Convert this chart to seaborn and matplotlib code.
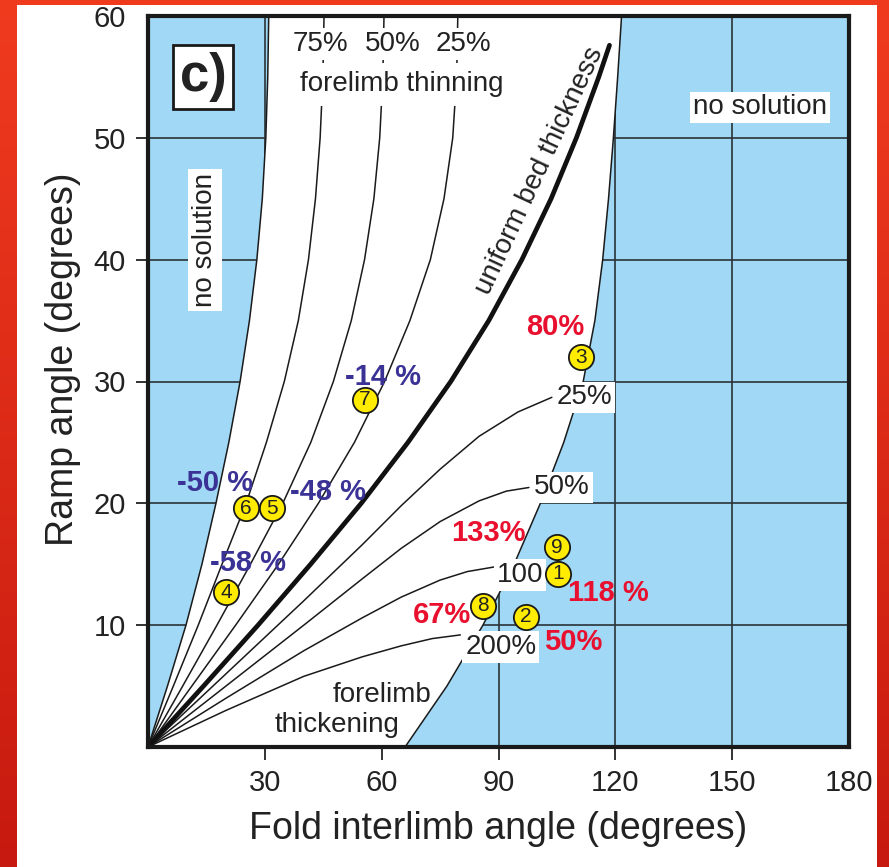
import numpy as np
import matplotlib
matplotlib.use("Agg")
import matplotlib.pyplot as plt
import seaborn as sns
from matplotlib.patches import Rectangle

# --- Dane (kąt przegubu fałdu vs kąt rampy) ---
# granice obszaru rozwiązań
left_bnd_x = [0, 5, 9.75, 13.85, 17.45, 20.75, 23.65, 26.05, 27.95, 29.35, 30.25, 30.75, 31.0]
left_bnd_y = [0, 5, 10, 15, 20, 25, 30, 35, 40, 45, 50, 55, 60]
right_bnd_x = [66, 76.75, 86.0, 94.0, 100.75, 106.75, 111.75, 114.75, 116.75, 118.25, 119.5, 120.6, 121.6]
right_bnd_y = [0, 5, 10, 15, 20, 25, 30, 35, 40, 45, 50, 55, 60]

# pocienianie skrzydła (75%, 50%, 25%)
thin_y = [0, 5, 10, 15, 20, 25, 30, 35, 40, 45, 50, 55, 60]
thin75_x = [0, 6.5, 12.9, 19.0, 25.2, 30.4, 35.0, 38.6, 41.2, 43.0, 44.2, 44.9, 45.2]
thin50_x = [0, 8.9, 17.7, 26.3, 34.6, 41.8, 47.6, 52.2, 55.6, 58.0, 59.5, 60.3, 60.6]
thin25_x = [0, 11.25, 22.5, 33.5, 43.75, 53.0, 60.75, 67.25, 72.5, 76.0, 78.25, 79.25, 79.55]

# stała miąższość warstwy
uniform_x = [0, 14.25, 28.25, 41.75, 54.75, 66.75, 77.75, 87.5, 96.0, 103.5, 110.0, 115.75, 118.5]
uniform_y = [0, 5, 10, 15, 20, 25, 30, 35, 40, 45, 50, 55, 57.6]

# pogrubianie skrzydła (25%, 50%, 100%, 200%)
thick25_x = [0, 20, 40, 55, 65, 75, 85, 95, 103.7]
thick25_y = [0, 6.0, 12.0, 16.6, 19.8, 22.8, 25.5, 27.5, 28.7]
thick50_x = [0, 20, 40, 55, 65, 75, 85, 92, 97.8]
thick50_y = [0, 5.0, 10.0, 13.8, 16.3, 18.5, 20.2, 21.0, 21.3]
thick100_x = [0, 20, 40, 55, 65, 75, 82, 89.3]
thick100_y = [0, 4.0, 7.9, 10.6, 12.3, 13.7, 14.4, 14.8]
thick200_x = [0, 20, 40, 55, 65, 73, 80.2]
thick200_y = [0, 3.0, 5.8, 7.4, 8.3, 8.9, 9.2]

# punkty pomiarowe
pt_ids = ["1", "2", "3", "4", "5", "6", "7", "8", "9"]
pt_x = [105.3, 97.0, 111.2, 20.0, 31.8, 25.2, 55.7, 86.0, 105.0]
pt_y = [14.2, 10.7, 32.0, 12.7, 19.6, 19.6, 28.5, 11.6, 16.4]

# etykiety zmian miąższości
neg_labels = ["-14 %", "-50 %", "-48 %", "-58 %"]
neg_x = [60.3, 17.2, 46.2, 25.7]
neg_y = [30.4, 21.7, 20.9, 15.1]
pos_labels = ["80%", "133%", "118 %", "67%", "50%"]
pos_x = [104.5, 87.3, 118.1, 75.5, 109.1]
pos_y = [34.5, 17.6, 12.6, 10.8, 8.6]
curve_labels = ["25%", "50%", "100", "200%"]
curve_lab_x = [112.0, 106.3, 95.6, 90.6]
curve_lab_y = [28.7, 21.3, 14.1, 8.2]
top_labels = ["75%", "50%", "25%"]
top_lab_x = [44.4, 62.9, 80.9]

x_ticks = [30, 60, 90, 120, 150, 180]
y_ticks = [10, 20, 30, 40, 50, 60]

BLUE_BG = "#a0d8f5"
TXT = "#222222"
NEG_COL = "#3b3296"
POS_COL = "#e8102e"

sns.set_theme(style="ticks")
plt.rcParams["font.family"] = ["Liberation Sans", "DejaVu Sans"]

fig = plt.figure(figsize=(8.89, 8.67), dpi=100)

# tło slajdu (czerwony gradient + biały panel)
bg = fig.add_axes([0, 0, 1, 1], zorder=-5)
grad = np.linspace(0, 1, 256).reshape(-1, 1)
top_c = np.array([0.94, 0.23, 0.12])
bot_c = np.array([0.78, 0.10, 0.06])
img = top_c + (bot_c - top_c) * grad[..., None]
img = np.repeat(img, 2, axis=1)
bg.imshow(img, aspect="auto", extent=[0, 1, 0, 1])
bg.add_patch(Rectangle((17 / 889, 0), 860 / 889, 862 / 867, facecolor="white",
                       edgecolor="none"))
bg.set_xlim(0, 1)
bg.set_ylim(0, 1)
bg.axis("off")

ax = fig.add_axes([148 / 889, 1 - 747 / 867, 701 / 889, 731 / 867])
ax.set_facecolor(BLUE_BG)
ax.set_xlim(0, 180)
ax.set_ylim(0, 60)
ax.set_axisbelow(True)
ax.grid(True, color="#2b3338", lw=1.2)

# biały obszar rozwiązań
poly_x = left_bnd_x + right_bnd_x[::-1]
poly_y = left_bnd_y + right_bnd_y[::-1]
ax.fill(poly_x, poly_y, color="white", zorder=1, lw=0)

thin_curves = [(left_bnd_x, left_bnd_y), (right_bnd_x, right_bnd_y),
               (thin75_x, thin_y), (thin50_x, thin_y), (thin25_x, thin_y),
               (thick25_x, thick25_y), (thick50_x, thick50_y),
               (thick100_x, thick100_y), (thick200_x, thick200_y)]
for cx, cy in thin_curves:
    sns.lineplot(x=cx, y=cy, sort=False, estimator=None, color="#1a1a1a",
                 lw=1.1, ax=ax, zorder=3)
sns.lineplot(x=uniform_x, y=uniform_y, sort=False, estimator=None,
             color="#111111", lw=3.4, ax=ax, zorder=3)

# opisy
box = dict(facecolor="white", edgecolor="none", pad=2)
for lab, lx in zip(top_labels, top_lab_x):
    ax.text(lx, 57.7, lab, ha="center", va="center", fontsize=20, color=TXT,
            bbox=box, zorder=5)
ax.text(65.2, 54.4, "forelimb thinning", ha="center", va="center", fontsize=20,
        color=TXT, bbox=dict(facecolor="white", edgecolor="none", pad=6), zorder=5)
ax.text(100.5, 47.3, "uniform bed thickness", ha="center", va="center",
        rotation=65, rotation_mode="anchor", fontsize=20, color=TXT, zorder=5)
ax.text(14.6, 41.6, "no solution", ha="center", va="center", rotation=90,
        fontsize=20, color=TXT, bbox=dict(facecolor="white", edgecolor="none", pad=3),
        zorder=5)
ax.text(157.2, 52.5, "no solution", ha="center", va="center", fontsize=20,
        color=TXT, bbox=dict(facecolor="white", edgecolor="none", pad=2), zorder=5)
ax.text(14.1, 55.0, "c)", ha="center", va="center", fontsize=38, weight="bold",
        color=TXT, bbox=dict(facecolor="white", edgecolor="#1a1a1a", lw=2, pad=5),
        zorder=5)
ax.text(60.0, 4.3, "forelimb", ha="center", va="center", fontsize=20, color=TXT,
        zorder=5)
ax.text(48.5, 1.8, "thickening", ha="center", va="center", fontsize=20, color=TXT,
        zorder=5)
for lab, lx, ly in zip(curve_labels, curve_lab_x, curve_lab_y):
    ax.text(lx, ly, lab, ha="center", va="center", fontsize=20, color=TXT,
            bbox=box, zorder=5)
for lab, lx, ly in zip(neg_labels, neg_x, neg_y):
    ax.text(lx, ly, lab, ha="center", va="center", fontsize=21, weight="bold",
            color=NEG_COL, zorder=5)
for lab, lx, ly in zip(pos_labels, pos_x, pos_y):
    ax.text(lx, ly, lab, ha="center", va="center", fontsize=21, weight="bold",
            color=POS_COL, zorder=5)

# punkty
sns.scatterplot(x=pt_x, y=pt_y, s=330, color="#ffec00", edgecolor="#1a1a1a",
                linewidth=1.3, ax=ax, zorder=6)
for lab, px, py in zip(pt_ids, pt_x, pt_y):
    ax.text(px, py, lab, ha="center", va="center", fontsize=15, color=TXT,
            zorder=7)

ax.set_xticks(x_ticks)
ax.set_yticks(y_ticks)
ax.tick_params(direction="out", length=9, width=1.3, pad=7, labelsize=21,
               colors=TXT)
ax.xaxis.get_major_ticks()[-1].tick1line.set_visible(False)
ax.yaxis.get_major_ticks()[-1].tick1line.set_visible(False)
for sp in ax.spines.values():
    sp.set_linewidth(3)
    sp.set_color("#1a1a1a")
    sp.set_zorder(8)

ax.set_xlabel("Fold interlimb angle (degrees)", fontsize=27, color=TXT)
ax.set_ylabel("Ramp angle (degrees)", fontsize=27, color=TXT)
ax.xaxis.set_label_coords(0.5, -0.088)
ax.yaxis.set_label_coords(-0.095, 0.53)

plt.savefig("out.png", dpi=100)
